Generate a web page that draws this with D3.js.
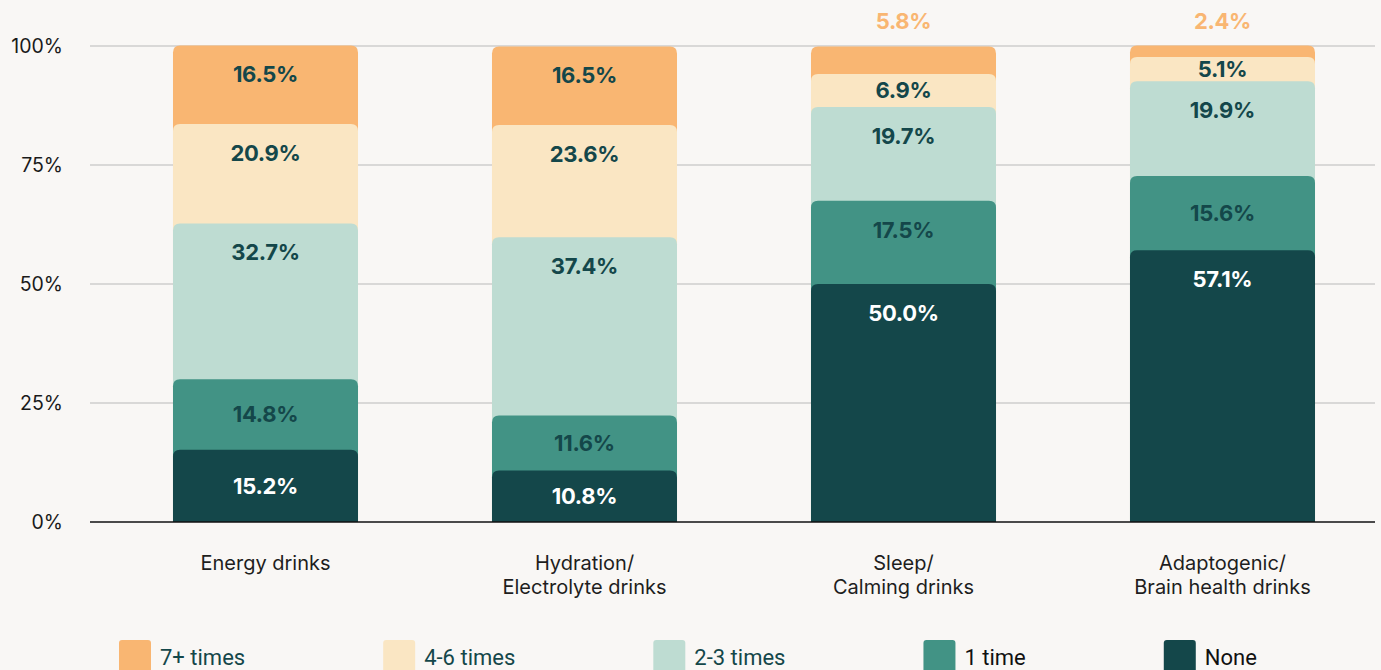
<!DOCTYPE html>
<html>
<head>
<meta charset="utf-8">
<script src="https://cdn.jsdelivr.net/npm/d3@7"></script>
<style>
  html, body { margin: 0; padding: 0; background: #f9f7f5; }
  svg { display: block; }
</style>
</head>
<body>
<div id="chart"></div>
<script>
// Data (percent of respondents)
const categories = ["Energy drinks", "Hydration/\nElectrolyte drinks", "Sleep/\nCalming drinks", "Adaptogenic/\nBrain health drinks"];
const seriesNames = ["7+ times", "4-6 times", "2-3 times", "1 time", "None"];
const sevenPlus = [16.5, 16.5, 5.8, 2.4];
const fourToSix = [20.9, 23.6, 6.9, 5.1];
const twoToThree = [32.7, 37.4, 19.7, 19.9];
const oneTime = [14.8, 11.6, 17.5, 15.6];
const none = [15.2, 10.8, 50.0, 57.1];
const yTicks = [0, 25, 50, 75, 100];

const colors = ["#f9b672", "#fae6c3", "#bedcd2", "#429385", "#14474a"];
const seriesValues = [sevenPlus, fourToSix, twoToThree, oneTime, none];

const width = 1381, height = 670;
const svg = d3.select("#chart").append("svg")
    .attr("width", width)
    .attr("height", height);

const x = d3.scaleBand()
    .domain(categories)
    .range([106, 1382])
    .paddingInner(0.42)
    .paddingOuter(0.21);

const y = d3.scaleLinear()
    .domain([0, 100])
    .range([522, 46]);

// gridlines + y labels
svg.append("g")
  .selectAll("line")
  .data(yTicks.filter(d => d > 0))
  .join("line")
    .attr("x1", 90).attr("x2", 1375)
    .attr("y1", d => y(d)).attr("y2", d => y(d))
    .attr("stroke", "#b9b9b9")
    .attr("stroke-width", 1.2);

svg.append("g")
  .selectAll("text")
  .data(yTicks)
  .join("text")
    .attr("x", 63)
    .attr("y", d => y(d))
    .attr("dy", "0.36em")
    .attr("text-anchor", "end")
    .style("font-family", "Inter, 'Noto Sans', sans-serif")
    .style("font-size", "19.5px")
    .style("fill", "#1a1a1a")
    .text(d => d + "%");

// rows for stacking: None at the bottom
const rows = categories.map((c, i) => {
  const r = {cat: c};
  seriesNames.forEach((s, j) => r[s] = seriesValues[j][i]);
  return r;
});
const stack = d3.stack().keys(seriesNames.slice().reverse())(rows);

// bar with rounded top corners, from baseline up to the segment top
function topRounded(x0, w, yTop, yBot, r) {
  r = Math.min(r, (yBot - yTop));
  return `M${x0},${yBot}V${yTop + r}Q${x0},${yTop} ${x0 + r},${yTop}` +
    `H${x0 + w - r}Q${x0 + w},${yTop} ${x0 + w},${yTop + r}V${yBot}Z`;
}

// draw from top series down so each lower segment overlaps the one above
const drawOrder = stack.slice().reverse();
drawOrder.forEach(layer => {
  const si = seriesNames.indexOf(layer.key);
  svg.append("g")
    .selectAll("path")
    .data(layer)
    .join("path")
      .attr("d", d => topRounded(x(d.data.cat), x.bandwidth(), y(d[1]), y(0), 7))
      .attr("fill", colors[si]);
});

// value labels
stack.forEach(layer => {
  const si = seriesNames.indexOf(layer.key);
  const outside = d => si === 0 && (d[1] - d[0]) < 6;
  svg.append("g")
    .selectAll("text")
    .data(layer)
    .join("text")
      .attr("x", d => x(d.data.cat) + x.bandwidth() / 2)
      .attr("y", d => {
        const v = d[1] - d[0];
        if (outside(d)) return 21;
        const top = y(d[1]), h = y(d[0]) - y(d[1]);
        return v < 16 ? top + h / 2 : top + 29;
      })
      .attr("dy", "0.36em")
      .attr("text-anchor", "middle")
      .style("font-family", "Inter, 'Noto Sans', sans-serif")
      .style("font-weight", 700)
      .style("font-size", "22px")
      .style("letter-spacing", "-0.3px")
      .style("fill", d => {
        if (outside(d)) return colors[0];
        return si === 4 ? "#ffffff" : "#14474a";
      })
      .text(d => (d[1] - d[0]).toFixed(1) + "%");
});

// baseline
svg.append("line")
    .attr("x1", 90).attr("x2", 1375)
    .attr("y1", y(0)).attr("y2", y(0))
    .attr("stroke", "#111")
    .attr("stroke-width", 1.5);

// category labels
const catLabels = svg.append("g")
  .selectAll("text")
  .data(categories)
  .join("text")
    .attr("x", d => x(d) + x.bandwidth() / 2)
    .attr("y", 570)
    .attr("text-anchor", "middle")
    .style("font-family", "Inter, 'Noto Sans', sans-serif")
    .style("font-size", "20px")
    .style("fill", "#1e1e1e");

catLabels.selectAll("tspan")
  .data(d => d.split("\n"))
  .join("tspan")
    .attr("x", function() { return d3.select(this.parentNode).attr("x"); })
    .attr("dy", (d, i) => i === 0 ? 0 : 24)
    .text(d => d);

// legend
const legend = svg.append("g");
let lx = 119;
seriesNames.forEach((name, i) => {
  const item = legend.append("g").attr("transform", `translate(${lx}, 640)`);
  item.append("rect")
    .attr("width", 32).attr("height", 34)
    .attr("rx", 3)
    .attr("fill", colors[i]);
  const t = item.append("text")
    .attr("x", 41)
    .attr("y", 25)
    .style("font-family", "Roboto, 'Noto Sans', sans-serif")
    .style("font-size", "22px")
    .style("fill", i < 3 ? "#14474a" : "#111")
    .text(name);
  lx += 41 + t.node().getComputedTextLength() + 138;
});
</script>
</body>
</html>
